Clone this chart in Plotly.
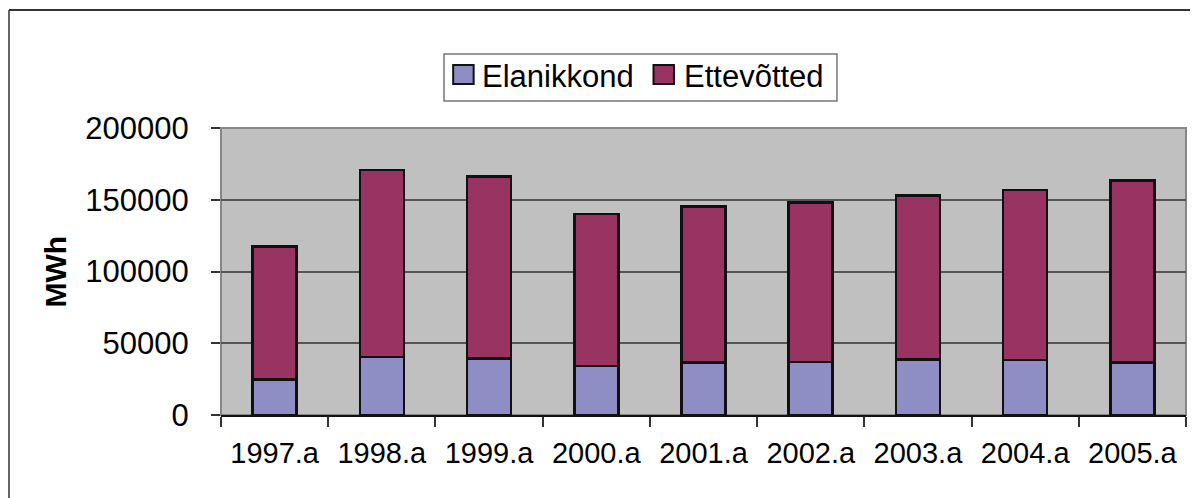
import plotly.graph_objects as go

years = ["1997.a", "1998.a", "1999.a", "2000.a", "2001.a",
         "2002.a", "2003.a", "2004.a", "2005.a"]
elanikkond = [24900, 40400, 39300, 34100, 36700, 36900, 38800, 38300, 36700]
ettevotted = [92400, 130300, 126800, 105800, 108700, 111100, 114000, 118500, 126800]
series_names = ["Elanikkond", "Ettevõtted"]
series_colors = ["#8E8EC5", "#993462"]
y_title = "MWh"

FONT = "Arial, Liberation Sans, sans-serif"

fig = go.Figure()
for name, vals, col in zip(series_names, [elanikkond, ettevotted], series_colors):
    fig.add_trace(go.Bar(
        x=years, y=vals, name=name,
        marker={"color": col, "line": {"color": "#111111", "width": 2.5}},
        showlegend=False,
    ))

# plot area border (gray) and outer chart frame (left + top only visible)
shapes = [
    dict(type="rect", xref="paper", yref="paper", x0=0, x1=1, y0=0, y1=1,
         line={"color": "#868686", "width": 2}, layer="below"),
    dict(type="line", xref="paper", yref="paper", x0=-0.2197, x1=-0.2197,
         y0=1.4111, y1=-0.5, line={"color": "#333333", "width": 1.5}),
    dict(type="line", xref="paper", yref="paper", x0=-0.2197, x1=1.05,
         y0=1.4111, y1=1.4111, line={"color": "#333333", "width": 2}),
    # manual legend box
    dict(type="rect", xref="paper", yref="paper", x0=0.2311, x1=0.6383,
         y0=1.0941, y1=1.2578, line={"color": "#777777", "width": 1.5},
         fillcolor="white"),
]
annotations = []
legend_sq_x = [0.2406, 0.4482]
legend_txt_x = [0.2680, 0.4777]
for sx, tx, name, col in zip(legend_sq_x, legend_txt_x, series_names, series_colors):
    shapes.append(dict(type="rect", xref="paper", yref="paper",
                       x0=sx, x1=sx + 0.0212, y0=1.1530, y1=1.2195,
                       line={"color": "#111111", "width": 2}, fillcolor=col))
    annotations.append(dict(text=name, xref="paper", yref="paper", x=tx, y=1.181,
                            xanchor="left", yanchor="middle", showarrow=False,
                            font={"family": FONT, "size": 31, "color": "black"}))

annotations.append(dict(text=f"<b>{y_title}</b>", xref="paper", yref="paper",
                        x=-0.172, y=0.5, textangle=-90, xanchor="center",
                        yanchor="middle", showarrow=False,
                        font={"family": FONT, "size": 30, "color": "black"}))

# the page body adds an 8px offset, so the figure is 8px smaller
fig.update_layout(
    barmode="stack",
    bargap=0.59,
    width=1190, height=490,
    margin={"l": 213, "r": 12, "t": 120, "b": 83},
    paper_bgcolor="white",
    plot_bgcolor="#C0C0C0",
    shapes=shapes,
    annotations=annotations,
    font={"family": FONT, "color": "black"},
)
fig.update_xaxes(
    showline=True, linecolor="#111111", linewidth=1.5,
    ticks="outside", tickson="boundaries", ticklen=10, tickcolor="#333333",
    tickwidth=1.5, tickfont={"size": 29, "family": FONT},
    ticklabelstandoff=11, showgrid=False,
)
fig.update_yaxes(
    range=[0, 200000], dtick=50000, tickformat="d",
    showgrid=True, gridcolor="#555555", gridwidth=1.5,
    showline=False, zeroline=False,
    ticks="outside", ticklen=9, tickcolor="#333333", tickwidth=1.5,
    tickfont={"size": 31, "family": FONT}, ticklabelstandoff=16,
)

fig.write_html("out.html")
